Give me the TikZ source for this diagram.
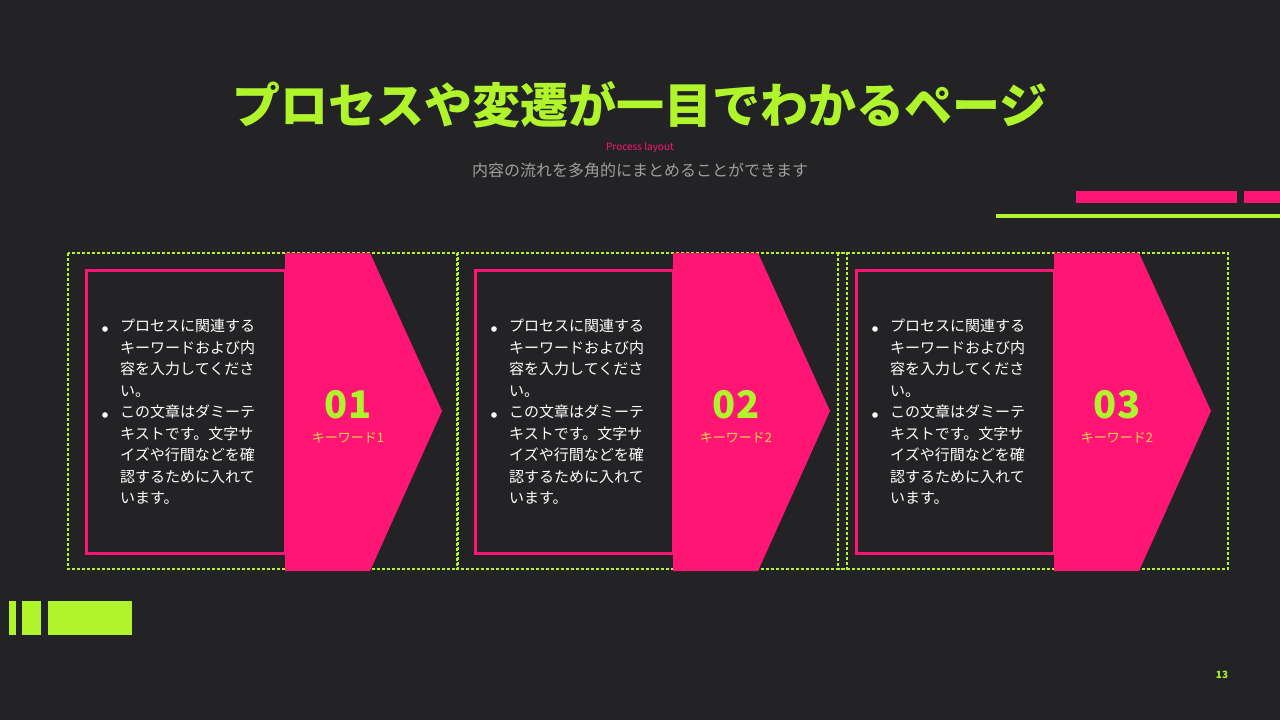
\documentclass[tikz,border=0pt]{standalone}
\usepackage{fontspec}
\setmainfont{Noto Sans CJK JP}
\newfontfamily\jpb{Noto Sans CJK JP}[BoldFont={* Bold}]
\usetikzlibrary{positioning}
\definecolor{bg}{HTML}{232325}
\definecolor{pinkc}{HTML}{FF1675}
\definecolor{limec}{HTML}{B0F42C}
\definecolor{kwc}{HTML}{F5D94A}
\tikzset{
 dashbox/.style={draw=limec,line width=1.5pt,dash pattern=on 3pt off 2pt},
 framebox/.style={draw=pinkc,line width=3pt},
 arrowsh/.style={fill=pinkc},
 body/.style={anchor=north west,text=white,font=\fontsize{15}{21.5}\selectfont,align=left,inner sep=0},
 num/.style={text=limec,font=\fontsize{38}{40}\selectfont\bfseries},
 kw/.style={text=kwc,font=\fontsize{13}{15}\selectfont},
}
\begin{document}
\begin{tikzpicture}[x=1pt,y=-1pt]
\fill[bg] (0,0) rectangle (1280,720);
\useasboundingbox (0,0) rectangle (1280,720);
\node[text=limec,font=\fontsize{48}{50}\selectfont\bfseries] (title) at (640,105) {プロセスや変遷が一目でわかるページ};
\node[text=pinkc,font=\fontsize{10}{12}\selectfont] (sub1) at (640,148) {Process layout};
\node[text=gray!75,font=\fontsize{16}{18}\selectfont] (sub2) at (640,170) {内容の流れを多角的にまとめることができます};
\fill[pinkc] (1076,191) rectangle (1237,203);
\fill[pinkc] (1244,191) rectangle (1280,203);
\fill[limec] (996,214) rectangle (1280,218);
\fill[limec] (9,601) rectangle (16,635);
\fill[limec] (22,601) rectangle (41,635);
\fill[limec] (48,601) rectangle (132,635);
\node[text=limec,font=\fontsize{10}{12}\selectfont\bfseries] (pg) at (1222,675) {13};
\foreach \d/\a/\n/\k in {68/285/01/キーワード1, 457/673/02/キーワード2, 838/1054/03/キーワード2}{
 \draw[dashbox] (\d,253) rectangle (\d+390,569);
 \draw[framebox] (\d+18,270) rectangle (\a,553);
 \fill[arrowsh] (\a,253) -- (\a+85,253) -- (\a+157,411) -- (\a+85,571) -- (\a,571) -- cycle;
 \node[num] (n\n) at (\a+63,405) {\n};
 \node[kw] (k\n) at (\a+63,438) {\k};
 \node[body] (t\n) at (\d+52,319) {プロセスに関連する\\キーワードおよび内\\容を入力してくださ\\い。\\この文章はダミーテ\\キストです。文字サ\\イズや行間などを確\\認するために入れて\\います。};
 \fill[white] (\d+37,329) circle (2.8);
 \fill[white] (\d+37,415) circle (2.8);
}
\end{tikzpicture}
\end{document}
